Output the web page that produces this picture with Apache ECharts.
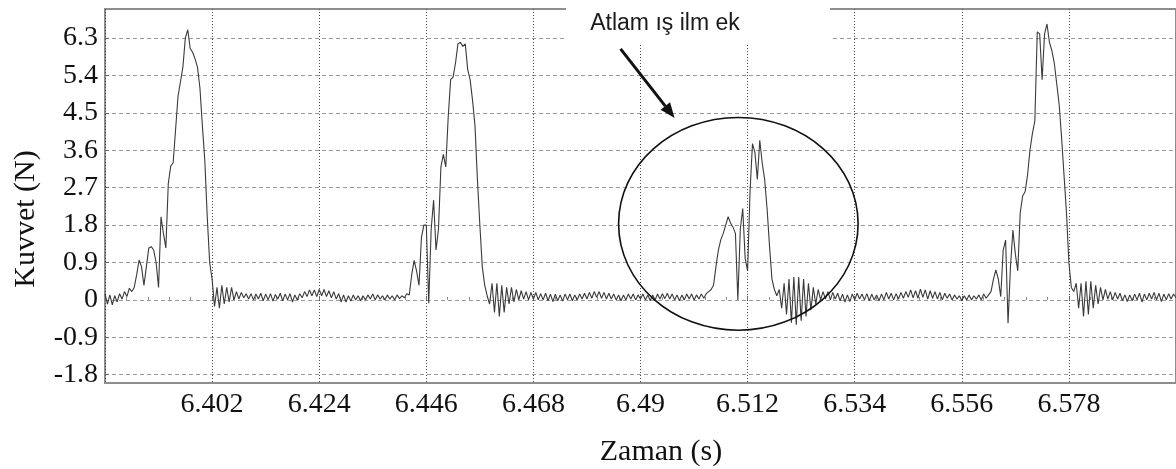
<!DOCTYPE html>
<html><head><meta charset="utf-8">
<script src="https://cdn.jsdelivr.net/npm/echarts@6/dist/echarts.min.js"></script>
<style>html,body{margin:0;padding:0;background:#fff}#c{width:1176px;height:469px}</style>
</head><body><div id="c"></div>
<script>
// ---- axis / tick definitions ----
const xMin = 6.38, xMax = 6.60, xStep = 0.022;
const yMin = -2.0, yMax = 7.0;
const yTicks = [-1.8, -0.9, 0, 0.9, 1.8, 2.7, 3.6, 4.5, 5.4, 6.3];
const xTitle = 'Zaman (s)';
const yTitle = 'Kuvvet (N)';
const noteText = 'Atlam ış ilm ek';

// ---- sampled signal: start time, sample step, force values (N) ----
const sampleStart = 6.38, sampleStep = 0.0005;
const forcePart1 = [ // 6.3800 - 6.4395 (first loop)
 0.15,-0.1,0.12,-0.12,0.1,-0.05,0.15,0.02,0.2,0.08,
 0.28,0.2,0.3,0.6,0.96,0.8,0.35,0.8,1.25,1.28,
 1.2,0.9,0.3,2.0,1.6,1.25,2.8,3.22,3.3,4.1,
 4.9,5.25,5.6,6.3,6.5,6.05,5.96,5.8,5.6,5.1,
 4.2,3.36,2.0,0.9,0.5,-0.16,0.3,-0.2,0.35,-0.1,
 0.3,-0.05,0.3,0.0,0.2,0.02,0.18,0.05,0.15,0.02,
 0.15,0.0,0.14,0.02,0.16,-0.02,0.14,0.0,0.15,-0.03,
 0.13,0.02,0.16,-0.02,0.14,0.0,0.15,-0.05,0.12,0.0,
 0.15,0.05,0.2,0.08,0.24,0.1,0.24,0.08,0.25,0.1,
 0.25,0.08,0.22,0.05,0.2,0.02,0.15,-0.05,0.12,-0.05,
 0.1,-0.03,0.12,0.0,0.1,-0.02,0.1,0.0,0.12,0.02,
 0.14,0.0,0.12,0.02,0.1,0.0,0.12,0.02,0.1,0.0
];
const forcePart2 = [ // 6.4400 - 6.4995 (second loop)
 0.12,0.03,0.1,0.05,0.15,0.12,0.6,0.95,0.7,0.35,
 1.5,1.8,1.8,-0.08,1.7,2.4,1.2,1.7,3.2,3.5,
 3.2,4.4,5.3,5.36,5.7,6.16,6.2,6.1,6.16,5.55,
 5.3,4.8,4.2,2.9,1.8,0.8,0.35,0.1,-0.1,0.4,
 -0.3,0.4,-0.4,0.35,-0.3,0.3,-0.1,0.3,-0.05,0.25,
 0.0,0.22,0.02,0.2,0.0,0.18,0.02,0.18,0.0,0.15,
 0.0,0.16,-0.02,0.14,-0.04,0.14,-0.02,0.12,-0.03,0.14,
 0.0,0.14,-0.02,0.12,0.0,0.14,0.02,0.16,0.02,0.18,
 0.04,0.2,0.06,0.2,0.04,0.18,0.02,0.16,0.02,0.14,
 0.0,0.12,-0.02,0.12,0.0,0.14,0.02,0.14,0.0,0.12,
 0.02,0.14,0.0,0.12,-0.02,0.12,0.0,0.14,0.02,0.15,
 0.03,0.16,0.02,0.14,0.0,0.12,-0.02,0.12,0.0,0.14
];
const forcePart3 = [ // 6.5000 - 6.5595 (skipped loop)
 0.02,0.14,0.0,0.12,0.02,0.14,0.04,0.15,0.2,0.25,
 0.35,0.8,1.2,1.45,1.6,1.8,2.0,1.85,1.75,1.6,
 0.0,1.7,2.2,1.0,0.7,2.6,3.76,3.55,2.9,3.84,
 3.3,2.9,2.2,1.3,0.5,0.25,0.1,0.25,-0.2,0.4,
 -0.35,0.5,-0.55,0.55,-0.6,0.55,-0.5,0.5,-0.4,0.4,
 -0.25,0.3,-0.1,0.25,0.0,0.2,0.02,0.2,0.0,0.18,
 0.02,0.16,-0.02,0.14,-0.05,0.12,-0.04,0.14,0.0,0.16,
 0.02,0.14,0.0,0.15,-0.02,0.14,0.0,0.12,-0.02,0.14,
 0.0,0.18,0.02,0.16,0.0,0.15,0.02,0.18,0.04,0.2,
 0.06,0.24,0.05,0.22,0.04,0.26,0.06,0.24,0.02,0.22,
 0.04,0.2,0.02,0.18,0.0,0.16,0.04,0.14,0.0,0.12,
 0.02,0.1,-0.02,0.1,0.0,0.12,0.0,0.1,0.02,0.12
];
const forcePart4 = [ // 6.5600 - 6.6000 (fourth loop)
 0.0,0.14,0.04,0.12,0.2,0.5,0.72,0.5,0.08,1.2,
 1.44,-0.56,0.8,1.68,1.1,0.7,2.1,2.5,2.6,3.0,
 3.6,4.0,4.3,6.45,6.4,5.3,6.4,6.64,6.2,6.0,
 5.7,5.2,4.7,3.9,3.0,2.1,0.9,0.3,0.2,0.4,
 -0.2,0.4,-0.4,0.45,-0.35,0.45,-0.2,0.35,-0.1,0.3,
 0.0,0.25,0.02,0.2,0.0,0.18,0.02,0.16,-0.02,0.12,
 -0.04,0.12,-0.02,0.14,0.0,0.16,-0.05,0.14,0.0,0.16,
 0.02,0.18,0.0,0.16,-0.04,0.14,0.0,0.15,0.02,0.14,
 0.05
];
const force = forcePart1.concat(forcePart2, forcePart3, forcePart4);
const seriesData = force.map((v, i) => [sampleStart + i * sampleStep, v]);

// annotation anchors in data units
const ringCenter = [6.5101, 1.83], ringRadius = [0.0246, 2.56];
const arrowFrom = [6.4859, 6.04], arrowTo = [6.4970, 4.38];

const chart = echarts.init(document.getElementById('c'), null, {renderer: 'canvas'});
const serif = '"Liberation Serif", "Times New Roman", serif';

chart.setOption({
  animation: false,
  backgroundColor: '#fff',
  grid: {left: 105, top: 9, width: 1073, height: 374, show: true,
         borderColor: '#8e8e8e', borderWidth: 2, backgroundColor: 'transparent'},
  xAxis: {
    type: 'value', min: xMin, max: xMax, interval: xStep,
    axisLine: {show: false},
    axisTick: {show: true, inside: true, length: 4, lineStyle: {color: '#666'}},
    minorTick: {show: true, splitNumber: 5, length: 3, lineStyle: {color: '#888'}},
    axisLabel: {showMinLabel: false, showMaxLabel: false, margin: 8,
      fontFamily: serif, fontSize: 28, color: '#111'},
    splitLine: {show: true, lineStyle: {color: '#4a4a4a', width: 1, type: [1, 2]}}
  },
  yAxis: {
    type: 'value', min: yMin, max: yMax,
    axisLine: {show: false},
    axisTick: {show: true, inside: true, length: 4, customValues: yTicks, lineStyle: {color: '#666'}},
    axisLabel: {customValues: yTicks, margin: 7, fontFamily: serif, fontSize: 28, color: '#111'},
    splitLine: {show: true, lineStyle: {color: '#9a9a9a', width: 1, type: [4, 3]}}
  },
  series: [{
    type: 'line', data: seriesData, showSymbol: false, symbol: 'none',
    lineStyle: {color: '#3a3a3a', width: 1.1}, z: 3
  }]
});

const P = (d) => chart.convertToPixel({gridIndex: 0}, d);
const c = P(ringCenter);
const rxp = P([ringCenter[0] + ringRadius[0], ringCenter[1]])[0] - c[0];
const ryp = c[1] - P([ringCenter[0], ringCenter[1] + ringRadius[1]])[1];
const a0 = P(arrowFrom), a1 = P(arrowTo);
const dx = a1[0] - a0[0], dy = a1[1] - a0[1], L = Math.hypot(dx, dy);
const ux = dx / L, uy = dy / L, hl = 15, hw = 6;
const bx = a1[0] - ux * hl, by = a1[1] - uy * hl;

chart.setOption({
  graphic: [
    {type: 'rect', z: 100, shape: {x: 566, y: 0, width: 264, height: 45}, style: {fill: '#fff'}},
    {type: 'text', z: 101, x: 665, y: 24, style: {text: noteText, font: '23px "Liberation Sans", Arial, sans-serif',
      fill: '#1a1a1a', align: 'center', verticalAlign: 'middle', textAlign: 'center', textVerticalAlign: 'middle'}},
    {type: 'ellipse', z: 100, shape: {cx: c[0], cy: c[1], rx: rxp, ry: ryp},
      style: {fill: 'none', stroke: '#111', lineWidth: 1.6}},
    {type: 'line', z: 100, shape: {x1: a0[0], y1: a0[1], x2: bx, y2: by},
      style: {stroke: '#111', lineWidth: 3}},
    {type: 'polygon', z: 100, shape: {points: [[a1[0], a1[1]], [bx - uy * hw, by + ux * hw], [bx + uy * hw, by - ux * hw]]},
      style: {fill: '#111'}},
    {type: 'text', z: 101, x: 661, y: 452, style: {text: xTitle, font: '30px ' + serif, fill: '#111',
      align: 'center', verticalAlign: 'middle', textAlign: 'center', textVerticalAlign: 'middle'}},
    {type: 'text', z: 101, x: 26, y: 219, rotation: Math.PI / 2, style: {text: yTitle, font: '30px ' + serif, fill: '#111',
      align: 'center', verticalAlign: 'middle', textAlign: 'center', textVerticalAlign: 'middle'}}
  ]
});
</script></body></html>
